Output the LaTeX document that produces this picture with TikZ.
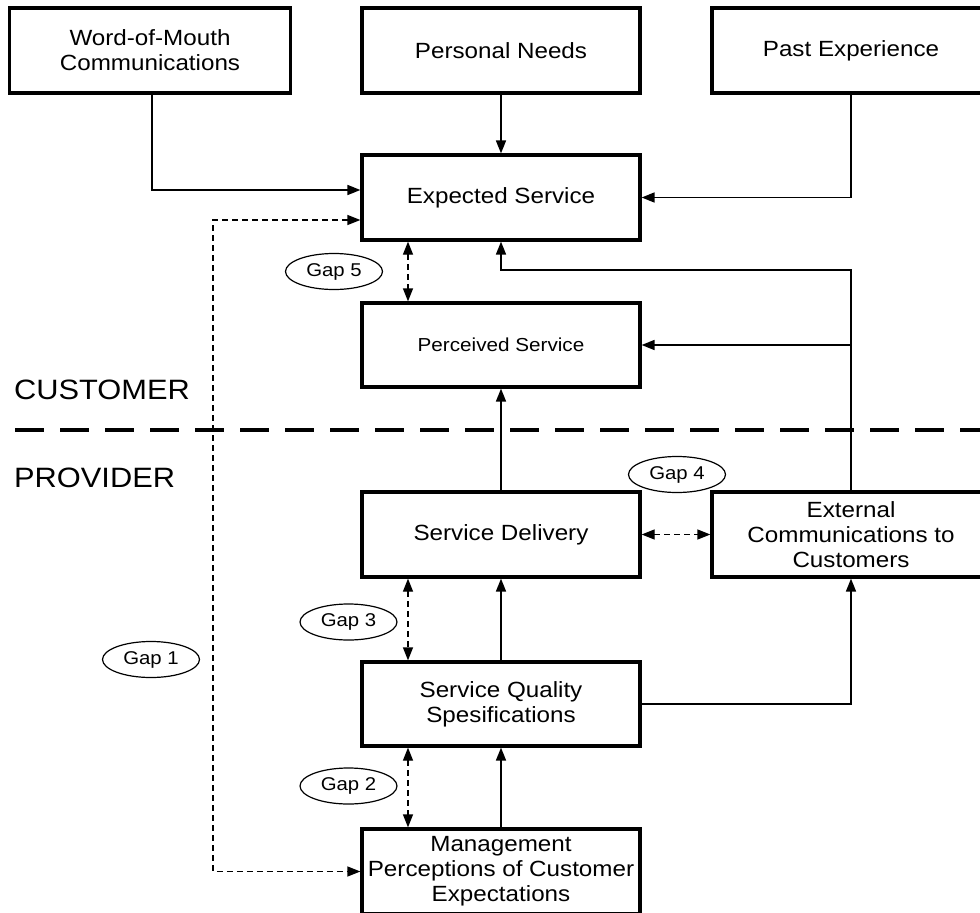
\documentclass[tikz,border=0pt]{standalone}
\usepackage{fontspec}
\setmainfont[FakeStretch=1.1]{Liberation Sans}
\usetikzlibrary{positioning, arrows.meta, shapes.geometric}

\begin{document}
\begin{tikzpicture}
    [
        x=1pt, y=-1pt, on grid,
        box/.style={rectangle, draw=black, line width=3.2pt, minimum width=278pt, minimum height=85pt, inner sep=2pt, align=center, font=\fontsize{22}{25}\selectfont},
        gap/.style={ellipse, draw=black, line width=1.2pt, minimum width=97pt, minimum height=36pt, inner sep=0pt, font=\fontsize{18.5}{20}\selectfont},
        side/.style={anchor=west, inner sep=0pt, font=\fontsize{28}{30}\selectfont},
        arr/.style={-{Triangle[length=13pt, width=10pt]}, line width=1.6pt},
        gaparr/.style={{Triangle[length=13pt, width=10pt]}-{Triangle[length=13pt, width=10pt]}, line width=1.2pt, dash pattern=on 6pt off 4pt},
    ]
        \useasboundingbox (0,0) rectangle (980,913) ;
        % customer side
        \node[box] (pn) at (501,50.5) {Personal Needs} ;
        \node[box, minimum width=281pt] (wom) [left = 351pt of pn] {Word-of-Mouth\\Communications} ;
        \node[box] (pe) [right = 350pt of pn] {Past Experience} ;
        \node[box] (es) [below = 147pt of pn] {Expected Service} ;
        \node[box, minimum height=84pt, font=\fontsize{18.8}{22}\selectfont] (ps) [below = 147.5pt of es] {Perceived Service} ;
        % provider side
        \node[box] (sd) [below = 189.5pt of ps] {Service Delivery} ;
        \node[box] (ec) [right = 350pt of sd] {External\\Communications to\\Customers} ;
        \node[box, minimum height=84pt] (sqs) [below = 169.5pt of sd] {Service Quality\\Spesifications} ;
        \node[box] (mg) [below = 167.5pt of sqs] {Management\\Perceptions of Customer\\Expectations} ;
        % gaps
        \node[gap] (gap5) at (334,271.5) {Gap 5} ;
        \node[gap] (gap4) at (677,474.5) {Gap 4} ;
        \node[gap] (gap3) at (348.5,622) {Gap 3} ;
        \node[gap] (gap1) at (151,659.5) {Gap 1} ;
        \node[gap] (gap2) at (348.5,786) {Gap 2} ;
        % divider
        \node[side] (cust) at (14,390) {CUSTOMER} ;
        \node[side] (prov) at (14,478) {PROVIDER} ;
        \coordinate (divl) at (15,430) ;
        \coordinate (divr) at (980,430) ;
        \draw[line width=3.3pt, dash pattern=on 29pt off 16pt] (divl) -- (divr) ;
        % connectors
        \coordinate (fb) at (501,270) ;
        \coordinate (g1turn) at (213,871.5) ;
        \draw[arr] ([xshift=2pt]wom.south) |- ([yshift=7.5pt]es.west) ;
        \draw[arr] (pn) -- (es) ;
        \draw[arr] (pe.south) |- (es.east) ;
        \draw[arr] (ec.north) |- (fb) -- (es.south) ;
        \draw[arr] (ec.north |- ps.east) -- (ps.east) ;
        \draw[arr] (sd) -- (ps) ;
        \draw[arr] (sqs) -- (sd) ;
        \draw[arr] (mg) -- (sqs) ;
        \draw[arr] (sqs.east) -| (ec.south) ;
        \draw[gaparr] ([yshift=-22.5pt]es.west) -| (g1turn) -- (mg.west) ;
        \draw[gaparr] ([xshift=-93pt]es.south) -- ([xshift=-93pt]ps.north) ;
        \draw[gaparr] ([xshift=-93pt]sd.south) -- ([xshift=-93pt]sqs.north) ;
        \draw[gaparr] ([xshift=-93pt]sqs.south) -- ([xshift=-93pt]mg.north) ;
        \draw[gaparr] (sd.east) -- (ec.west) ;
\end{tikzpicture}
\end{document}
